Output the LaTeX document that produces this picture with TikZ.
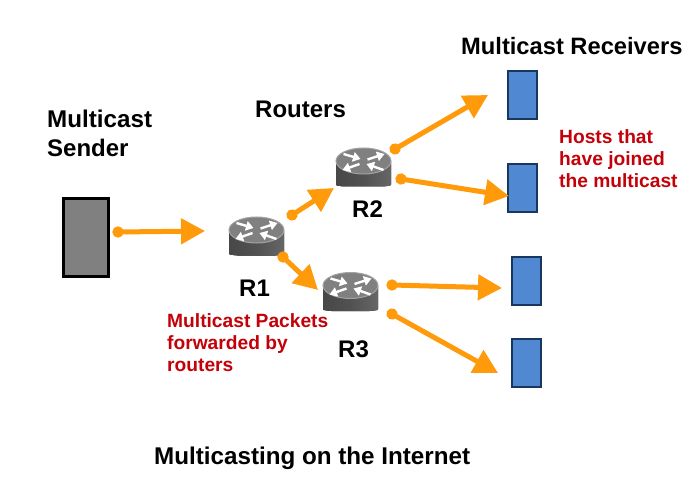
\documentclass[tikz,border=0pt]{standalone}
\usepackage{fontspec}
\setmainfont{Liberation Sans}
\usetikzlibrary{arrows.meta}
\definecolor{flow}{HTML}{FF9A0A}
\definecolor{redtxt}{HTML}{C40008}
\definecolor{hostfill}{HTML}{5089D2}
\definecolor{hostline}{HTML}{17375E}
\tikzset{
  flowarrow/.style={draw=flow,line width=5pt,{Circle[length=11pt,width=11pt]}-{Triangle[length=24pt,width=25pt]},shorten <=-5.5pt},
  hostbox/.style={draw=hostline,fill=hostfill,line width=2pt,minimum width=29pt,minimum height=47.5pt,inner sep=0pt},
  senderbox/.style={draw=black,fill=black!50,line width=2.3pt,minimum width=45pt,minimum height=78pt,inner sep=0pt},
  routerspot/.style={minimum width=55pt,minimum height=39pt,inner sep=0pt},
  blacktxt/.style={font=\fontsize{24}{26}\selectfont\bfseries,text=black,inner sep=0pt,anchor=base west},
  widetxt/.style={blacktxt,font=\fontsize{24.2}{26}\selectfont\bfseries},
  narrowtxt/.style={blacktxt,font=\fontsize{23.7}{26}\selectfont\bfseries},
  redlabel/.style={font=\fontsize{19.2}{24}\selectfont\bfseries,text=redtxt,inner sep=0pt,anchor=base west},
  rarrow/.style={draw=white,line width=2.4pt,-{Triangle[length=7.5pt,width=9.5pt]}},
}
\newcommand{\routerglyph}[1]{%
  \begin{scope}[shift={(#1)}]
    \fill[left color=black!72,right color=black!60,middle color=black!68,rounded corners=1pt] (-27.5,-6) -- (-27.5,18.5) -- (-20,19.5) -- (20,19.5) -- (27.5,18.5) -- (27.5,-6) -- cycle;
    \fill[black!50,draw=black!36,line width=1pt] (0,-6) ellipse[x radius=27.5,y radius=13];
    \begin{scope}[yscale=0.5]
      \draw[rarrow] (-20,-26) -- (-3,-16);
      \draw[rarrow] (4,-15) -- (21,-26);
      \draw[rarrow] (-4,-6) -- (-21,6);
      \draw[rarrow] (20,6) -- (3,-6);
    \end{scope}
  \end{scope}}
\begin{document}
\begin{tikzpicture}[x=1pt,y=-1pt]
\useasboundingbox (0,0) rectangle (694,484);
\fill[white] (0,0) rectangle (694,484);
% devices
\node[senderbox] (sender) at (86,237.5) {};
\node[routerspot] (r1) at (256.5,236) {};
\node[routerspot] (r2) at (363.5,167) {};
\node[routerspot] (r3) at (350.5,291.5) {};
\routerglyph{r1.center}
\routerglyph{r2.center}
\routerglyph{r3.center}
\node[hostbox] (h1) at (522,95) {};
\node[hostbox] (h2) at (522.7,188) {};
\node[hostbox] (h3) at (526.7,281) {};
\node[hostbox] (h4) at (526,363) {};
% connector ends
\coordinate (s0) at (118,232);
\coordinate (s1) at (205,231);
\coordinate (a0) at (292,215);
\coordinate (a1) at (334,188);
\coordinate (b0) at (283,257);
\coordinate (b1) at (318,290);
\coordinate (c0) at (395,149);
\coordinate (c1) at (488,95);
\coordinate (d0) at (401,179);
\coordinate (d1) at (509,196);
\coordinate (e0) at (392,285);
\coordinate (e1) at (502,288);
\coordinate (f0) at (392,314);
\coordinate (f1) at (498,373);
\draw[flowarrow] (s0) -- (s1);
\draw[flowarrow] (a0) -- (a1);
\draw[flowarrow] (b0) -- (b1);
\draw[flowarrow] (c0) -- (c1);
\draw[flowarrow] (d0) -- (d1);
\draw[flowarrow] (e0) -- (e1);
\draw[flowarrow] (f0) -- (f1);
% labels
\node[narrowtxt] (t1) at (461,55) {Multicast Receivers};
\node[widetxt] (t2) at (47,128) {Multicast};
\node[blacktxt] (t3) at (47,157) {Sender};
\node[blacktxt] (t4) at (255,118) {Routers};
\node[blacktxt] (t5) at (352,218) {R2};
\node[blacktxt] (t6) at (239,296) {R1};
\node[blacktxt] (t7) at (338,357) {R3};
\node[widetxt] (t8) at (154,464) {Multicasting on the Internet};
\node[redlabel] (n1) at (559,144) {Hosts that};
\node[redlabel] (n2) at (559,166) {have joined};
\node[redlabel] (n3) at (559,188) {the multicast};
\node[redlabel] (n4) at (167,327) {Multicast Packets};
\node[redlabel] (n5) at (167,349) {forwarded by};
\node[redlabel] (n6) at (167,371) {routers};
\end{tikzpicture}
\end{document}
